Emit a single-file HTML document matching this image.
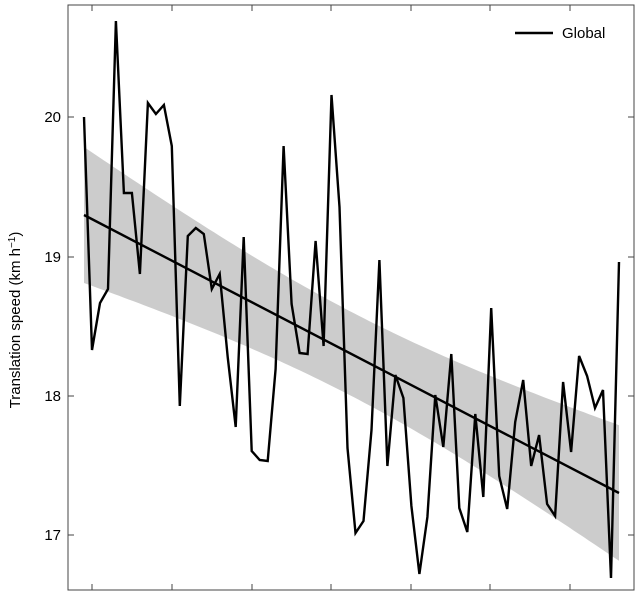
<!DOCTYPE html>
<html><head><style>body{margin:0;background:#fff}svg{display:block}</style></head><body>
<svg id="s" width="640" height="597" xmlns="http://www.w3.org/2000/svg" font-family="Liberation Sans, Arial, sans-serif">
<path id="band" fill="#cccccc" stroke="none"/>
<line x1="84" y1="215" x2="619" y2="493" stroke="#000" stroke-width="2.4"/>
<polyline id="data" fill="none" stroke="#000" stroke-width="2.4" stroke-linejoin="miter"/>
<rect x="68" y="5" width="566" height="585" fill="none" stroke="#444" stroke-width="1"/>
<g stroke="#444" stroke-width="1">
<line x1="92" y1="5" x2="92" y2="11"/><line x1="172" y1="5" x2="172" y2="11"/><line x1="252" y1="5" x2="252" y2="11"/><line x1="331" y1="5" x2="331" y2="11"/><line x1="411" y1="5" x2="411" y2="11"/><line x1="490" y1="5" x2="490" y2="11"/><line x1="570" y1="5" x2="570" y2="11"/>
<line x1="92" y1="590" x2="92" y2="584"/><line x1="172" y1="590" x2="172" y2="584"/><line x1="252" y1="590" x2="252" y2="584"/><line x1="331" y1="590" x2="331" y2="584"/><line x1="411" y1="590" x2="411" y2="584"/><line x1="490" y1="590" x2="490" y2="584"/><line x1="570" y1="590" x2="570" y2="584"/>
<line x1="68" y1="117" x2="74" y2="117"/><line x1="68" y1="257" x2="74" y2="257"/><line x1="68" y1="396" x2="74" y2="396"/><line x1="68" y1="535" x2="74" y2="535"/>
<line x1="634" y1="117" x2="628" y2="117"/><line x1="634" y1="257" x2="628" y2="257"/><line x1="634" y1="396" x2="628" y2="396"/><line x1="634" y1="535" x2="628" y2="535"/>
</g>
<g font-size="15" fill="#000" text-anchor="end">
<text x="61" y="122">20</text><text x="61" y="262">19</text><text x="61" y="401">18</text><text x="61" y="540">17</text>
</g>
<text transform="translate(20,320) rotate(-90)" font-size="15" text-anchor="middle">Translation speed (km h<tspan baseline-shift="super" font-size="10">−1</tspan>)</text>
<line x1="515" y1="33" x2="553" y2="33" stroke="#000" stroke-width="2.4"/>
<text x="562" y="38" font-size="15">Global</text>
</svg>
<script>
(function(){
var ys=[117,350,303,289,21,193,193,274,103,114,105,146,406,236,228,234,289,274,357,427,237,451,460,461,369,146,304,353,354,241,346,95,207,448,533,521,430,260,466,375,398,506,574,517,395,447,354,508,532,414,497,308,476,509,422,380,466,435,504,516,382,452,356,376,408,390,578,262];
var pts=ys.map(function(y,i){return (84+i*535/67).toFixed(1)+","+y}).join(" ");
document.getElementById("data").setAttribute("points",pts);
var up=[],lo=[];
for(var x=84;x<=619;x+=5){var c=215+(x-84)*278/535;var h=Math.sqrt(1764+0.0398*(x-352)*(x-352));up.push(x+","+(c-h).toFixed(1));lo.unshift(x+","+(c+h).toFixed(1));}
document.getElementById("band").setAttribute("d","M"+up.join(" L")+" L"+lo.join(" L")+"Z");
})();
</script>
</body></html>
